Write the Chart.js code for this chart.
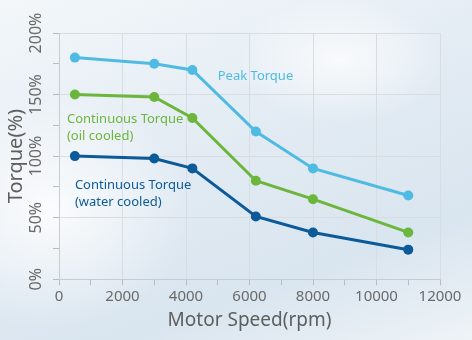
<!DOCTYPE html>
<html>
<head>
<meta charset="utf-8">
<script src="https://cdn.jsdelivr.net/npm/chart.js@4"></script>
<style>
  html, body { margin: 0; padding: 0; }
  body {
    width: 472px; height: 340px; overflow: hidden;
    background:
      radial-gradient(ellipse 150px 90px at 340px 60px, rgba(255,255,255,0.75), rgba(255,255,255,0) 70%),
      radial-gradient(ellipse 200px 170px at 50px 210px, rgba(255,255,255,0.85), rgba(255,255,255,0) 70%),
      linear-gradient(160deg, #f3f7fa 0%, #e2ebf3 45%, #d9e5ef 75%, #eef3f7 100%);
  }
  #wrap { position: relative; width: 472px; height: 340px; }
</style>
</head>
<body>
<div id="wrap"><canvas id="canvas" width="472" height="340"></canvas></div>
<script>
const speeds = [500, 3000, 4200, 6200, 8000, 11000];
const peakTorque = [180, 175, 170, 120, 90, 68];
const oilCooled = [150, 148, 131, 80, 65, 38];
const waterCooled = [100, 98, 90, 51, 38, 24];
const xTicks = [0, 2000, 4000, 6000, 8000, 10000, 12000];
const yTicks = ["0%", "50%", "100%", "150%", "200%"];

const lightBlue = "#4fbbe2";
const green = "#6cb63c";
const navy = "#0b5a9a";

const seriesLabels = [
  { lines: ["Peak Torque"], color: lightBlue, x: 5000, y: 165 },
  { lines: ["Continuous Torque", "(oil cooled)"], color: green, x: 250, y: 130 },
  { lines: ["Continuous Torque", "(water cooled)"], color: navy, x: 500, y: 76 },
];

const toPoints = (vals) => vals.map((v, i) => ({ x: speeds[i], y: v }));

const mkSet = (label, vals, color) => ({
  label,
  data: toPoints(vals),
  borderColor: color,
  backgroundColor: color,
  borderWidth: 3,
  pointRadius: 5,
  pointBorderWidth: 0,
  pointHoverRadius: 5,
  tension: 0,
});

// series names next to the lines + rotated y tick labels
const labelPlugin = {
  id: "seriesText",
  afterDatasetsDraw(chart) {
    const { ctx, scales, chartArea } = chart;
    ctx.save();
    ctx.font = "13px 'Noto Sans'";
    ctx.textBaseline = "middle";
    ctx.textAlign = "left";
    seriesLabels.forEach((l) => {
      const px = scales.x.getPixelForValue(l.x);
      const py = scales.y.getPixelForValue(l.y);
      ctx.fillStyle = l.color;
      l.lines.forEach((t, i) => ctx.fillText(t, px, py + i * 17));
    });

    ctx.font = "16px 'Noto Sans'";
    ctx.fillStyle = "#6a6a6a";
    ctx.textAlign = "center";
    yTicks.forEach((t, i) => {
      const py = scales.y.getPixelForValue(i * 50);
      ctx.save();
      ctx.translate(chartArea.left - 23, py);
      ctx.rotate(-Math.PI / 2);
      ctx.fillText(t, 0, 0);
      ctx.restore();
    });
    ctx.restore();
  },
};

const canvas = document.querySelector("#canvas");
new Chart(canvas.getContext("2d"), {
  type: "line",
  data: {
    datasets: [
      mkSet("Peak Torque", peakTorque, lightBlue),
      mkSet("Continuous Torque (oil cooled)", oilCooled, green),
      mkSet("Continuous Torque (water cooled)", waterCooled, navy),
    ],
  },
  options: {
    responsive: false,
    animation: false,
    layout: { padding: { top: 33, right: 32, left: 0, bottom: 4 } },
    plugins: { legend: { display: false }, tooltip: { enabled: false } },
    scales: {
      x: {
        type: "linear",
        min: xTicks[0],
        max: xTicks[xTicks.length - 1],
        border: { color: "#c8ccd0" },
        grid: {
          color: (c) => (c.tick && c.tick.value % 2000 === 0 ? "#d9dde1" : "rgba(0,0,0,0)"),
          tickColor: "#b8bcc0",
          tickLength: 6,
        },
        ticks: {
          stepSize: 1000,
          autoSkip: false,
          maxRotation: 0,
          color: "#6a6a6a",
          font: { family: "'Noto Sans'", size: 15 },
          callback: (v) => (xTicks.includes(v) ? String(v) : ""),
        },
        title: {
          display: true,
          text: "Motor Speed(rpm)",
          color: "#5e5e5e",
          font: { family: "'Noto Sans'", size: 19 },
          padding: { top: 0 },
        },
      },
      y: {
        type: "linear",
        min: 0,
        max: 200,
        afterFit: (scale) => { scale.width = 59; },
        border: { color: "#c8ccd0" },
        grid: {
          color: (c) => (c.tick && c.tick.value % 50 === 0 ? "#d9dde1" : "rgba(0,0,0,0)"),
          tickColor: "#b8bcc0",
          tickLength: 6,
        },
        ticks: {
          stepSize: 25,
          autoSkip: false,
          color: "rgba(0,0,0,0)",
          font: { family: "'Noto Sans'", size: 15 },
          callback: () => "",
        },
        title: {
          display: true,
          text: "Torque(%)",
          color: "#5e5e5e",
          font: { family: "'Noto Sans'", size: 20 },
          padding: { bottom: 0 },
        },
      },
    },
  },
  plugins: [labelPlugin],
});
</script>
</body>
</html>
